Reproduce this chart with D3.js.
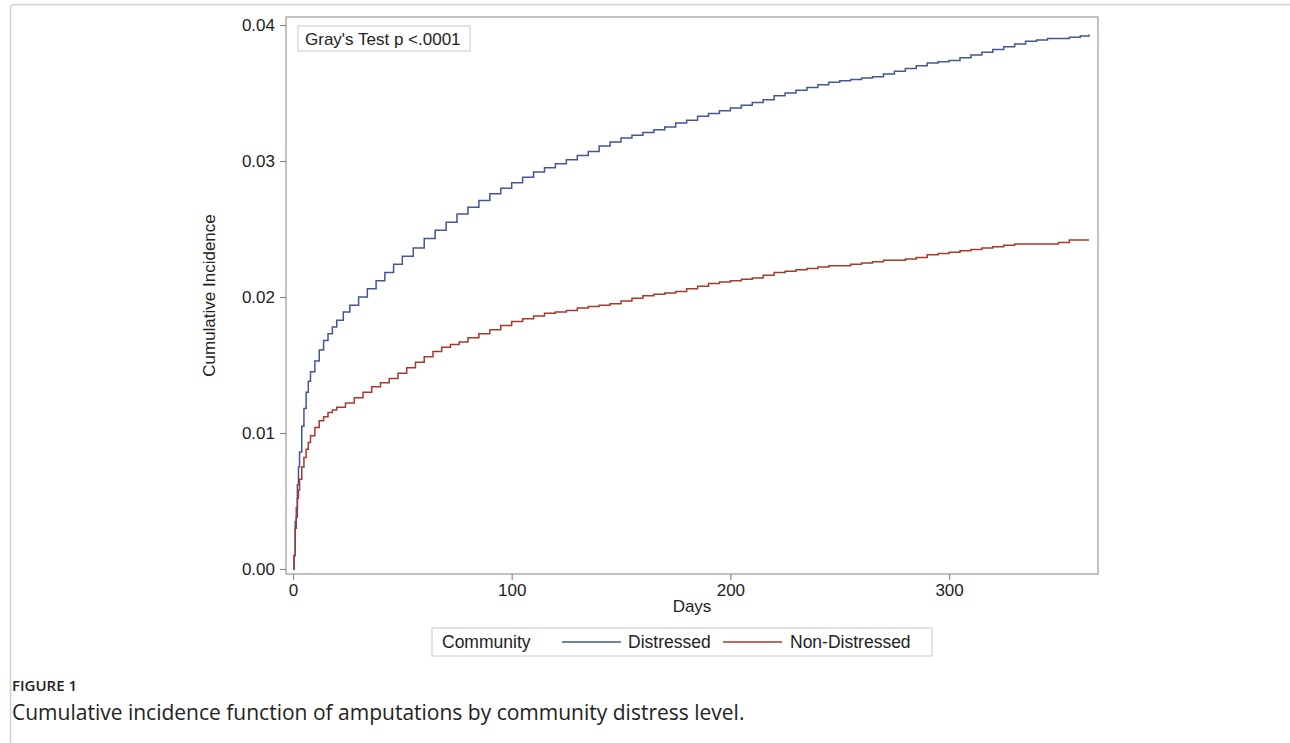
<!DOCTYPE html>
<html>
<head>
<meta charset="utf-8">
<script src="https://cdn.jsdelivr.net/npm/d3@7"></script>
<style>
  body { margin: 0; background: #fff; }
  svg text { font-family: "Liberation Sans", Arial, sans-serif; fill: #222; }
  .caption text { font-family: "Open Sans", sans-serif; }
</style>
</head>
<body>
<script>
// Data: [day, cumulative incidence]
const distressed = [
  [0,0],[0.5,0.001],[1,0.0035],[1.5,0.0045],[2,0.0062],[2.5,0.0075],[3,0.0086],[4,0.0105],[5,0.0118],
  [6,0.0130],[7,0.0138],[8,0.0145],[10,0.0153],[12,0.0161],[14,0.0168],[16,0.0173],[18,0.0178],[20,0.0183],
  [23,0.0189],[26,0.0194],[30,0.0200],[34,0.0206],[38,0.0212],[42,0.0218],[46,0.0224],[50,0.0230],[55,0.0236],
  [60,0.0243],[65,0.0249],[70,0.0255],[75,0.0261],[80,0.0266],[85,0.0271],[90,0.0276],[95,0.0280],[100,0.0284],
  [105,0.0288],[110,0.0292],[115,0.0295],[120,0.0298],[125,0.0301],[130,0.0304],[135,0.0307],[140,0.0311],
  [145,0.0314],[150,0.0317],[155,0.0319],[160,0.0321],[165,0.0323],[170,0.0325],[175,0.0328],[180,0.0330],
  [185,0.0333],[190,0.0335],[195,0.0337],[200,0.0339],[205,0.0341],[210,0.0343],[215,0.0345],[220,0.0348],
  [225,0.0350],[230,0.0352],[235,0.0354],[240,0.0356],[245,0.0358],[250,0.0359],[255,0.0360],[260,0.0361],
  [265,0.0362],[270,0.0364],[275,0.0366],[280,0.0368],[285,0.0370],[290,0.0372],[295,0.0373],[300,0.0374],
  [305,0.0376],[310,0.0378],[315,0.0380],[320,0.0382],[325,0.0384],[330,0.0386],[335,0.0388],[340,0.0389],
  [345,0.0390],[350,0.0390],[355,0.0391],[360,0.0392],[364,0.0393]
];
const nonDistressed = [
  [0,0],[0.5,0.001],[1,0.003],[1.5,0.0038],[2,0.0052],[2.5,0.0058],[3,0.0066],[4,0.0075],[5,0.0082],
  [6,0.0088],[7,0.0093],[8,0.0098],[10,0.0104],[12,0.0109],[14,0.0112],[16,0.0115],[18,0.0117],[20,0.0119],
  [24,0.0122],[28,0.0126],[32,0.0130],[36,0.0134],[40,0.0137],[44,0.0140],[48,0.0144],[52,0.0148],[56,0.0152],
  [60,0.0156],[64,0.0160],[68,0.0163],[72,0.0165],[76,0.0167],[80,0.0170],[85,0.0173],[90,0.0176],[95,0.0179],
  [100,0.0182],[105,0.0184],[110,0.0186],[115,0.0188],[120,0.0189],[125,0.0190],[130,0.0192],[135,0.0193],
  [140,0.0194],[145,0.0195],[150,0.0197],[155,0.0199],[160,0.0201],[165,0.0202],[170,0.0203],[175,0.0204],
  [180,0.0206],[185,0.0208],[190,0.0210],[195,0.0211],[200,0.0212],[205,0.0213],[210,0.0214],[215,0.0216],
  [220,0.0218],[225,0.0219],[230,0.0220],[235,0.0221],[240,0.0222],[245,0.0223],[250,0.0223],[255,0.0224],
  [260,0.0225],[265,0.0226],[270,0.0227],[275,0.0227],[280,0.0228],[285,0.0229],[290,0.0231],[295,0.0232],
  [300,0.0233],[305,0.0234],[310,0.0235],[315,0.0236],[320,0.0237],[325,0.0238],[330,0.0239],[340,0.0239],
  [345,0.0239],[350,0.0240],[355,0.0242],[364,0.0242]
];
const xTicks = [0, 100, 200, 300];
const yTicks = [0, 0.01, 0.02, 0.03, 0.04];
const seriesNames = ["Distressed", "Non-Distressed"];
const seriesColors = ["#445694", "#A23A2E"];

const W = 1290, H = 743;
const plot = { left: 286, right: 1098, top: 17, bottom: 574 };

const svg = d3.select("body").append("svg")
    .attr("width", W)
    .attr("height", H);

// outer figure frame (runs off the right/bottom edges)
svg.append("rect")
    .attr("x", 10.5).attr("y", 4.5)
    .attr("width", 1400).attr("height", 900)
    .attr("rx", 4)
    .attr("fill", "none")
    .attr("stroke", "#d0d0d0")
    .attr("stroke-width", 1.5);

const x = d3.scaleLinear().domain([-3.2, 368.1]).range([plot.left, plot.right]);
const y = d3.scaleLinear().domain([-0.000368, 0.04059]).range([plot.bottom, plot.top]);

// plot frame
svg.append("rect")
    .attr("x", plot.left).attr("y", plot.top)
    .attr("width", plot.right - plot.left)
    .attr("height", plot.bottom - plot.top)
    .attr("fill", "none")
    .attr("stroke", "#adadad")
    .attr("stroke-width", 1.5);

// axes
const xAxis = svg.append("g")
    .attr("transform", `translate(0,${plot.bottom})`)
    .call(d3.axisBottom(x).tickValues(xTicks).tickSize(6).tickPadding(4).tickFormat(d3.format("d")));
const yAxis = svg.append("g")
    .attr("transform", `translate(${plot.left},0)`)
    .call(d3.axisLeft(y).tickValues(yTicks).tickSize(6).tickPadding(5).tickFormat(d3.format(".2f")));

[xAxis, yAxis].forEach(g => {
    g.select(".domain").remove();
    g.selectAll(".tick line").attr("stroke", "#8a8a8a").attr("stroke-width", 1.2);
    g.selectAll("text")
        .style("font-family", "'Liberation Sans', Arial, sans-serif")
        .style("font-size", "17px")
        .attr("fill", "#2a2a2a");
});

// axis labels
svg.append("text")
    .attr("x", (plot.left + plot.right) / 2)
    .attr("y", 612)
    .attr("text-anchor", "middle")
    .style("font-size", "17px")
    .text("Days");

svg.append("text")
    .attr("transform", `translate(215,${(plot.top + plot.bottom) / 2}) rotate(-90)`)
    .attr("text-anchor", "middle")
    .style("font-size", "17px")
    .text("Cumulative Incidence");

// step curves
const line = d3.line()
    .x(d => x(d[0]))
    .y(d => y(d[1]))
    .curve(d3.curveStepAfter);

[distressed, nonDistressed].forEach((s, i) => {
    svg.append("path")
        .datum(s)
        .attr("d", line)
        .attr("fill", "none")
        .attr("stroke", seriesColors[i])
        .attr("stroke-width", 1.5);
});

// inset text box
const inset = svg.append("g");
inset.append("rect")
    .attr("x", 298).attr("y", 26)
    .attr("width", 172).attr("height", 25)
    .attr("fill", "#fff")
    .attr("stroke", "#c8c8c8");
inset.append("text")
    .attr("x", 305).attr("y", 44.5)
    .style("font-size", "17px")
    .text("Gray's Test p <.0001");

// legend
const legend = svg.append("g");
legend.append("rect")
    .attr("x", 432).attr("y", 628)
    .attr("width", 500).attr("height", 28)
    .attr("fill", "#fff")
    .attr("stroke", "#c8c8c8");
legend.append("text")
    .attr("x", 442).attr("y", 648)
    .style("font-size", "17.5px")
    .text("Community");
const legendItems = [
    { x1: 562, x2: 621, tx: 628 },
    { x1: 723, x2: 782, tx: 790 }
];
legendItems.forEach((it, i) => {
    legend.append("line")
        .attr("x1", it.x1).attr("x2", it.x2)
        .attr("y1", 642).attr("y2", 642)
        .attr("stroke", seriesColors[i])
        .attr("stroke-width", 1.5);
    legend.append("text")
        .attr("x", it.tx).attr("y", 648)
        .style("font-size", "17.5px")
        .text(seriesNames[i]);
});

// figure caption
const cap = svg.append("g").attr("class", "caption");
cap.append("text")
    .attr("x", 12).attr("y", 691)
    .style("font-size", "15px")
    .style("font-weight", "600")
    .attr("fill", "#5a5a5a")
    .text("FIGURE 1");
cap.append("text")
    .attr("x", 12).attr("y", 720)
    .style("font-size", "21px")
    .attr("fill", "#5a5a5a")
    .text("Cumulative incidence function of amputations by community distress level.");
</script>
</body>
</html>
